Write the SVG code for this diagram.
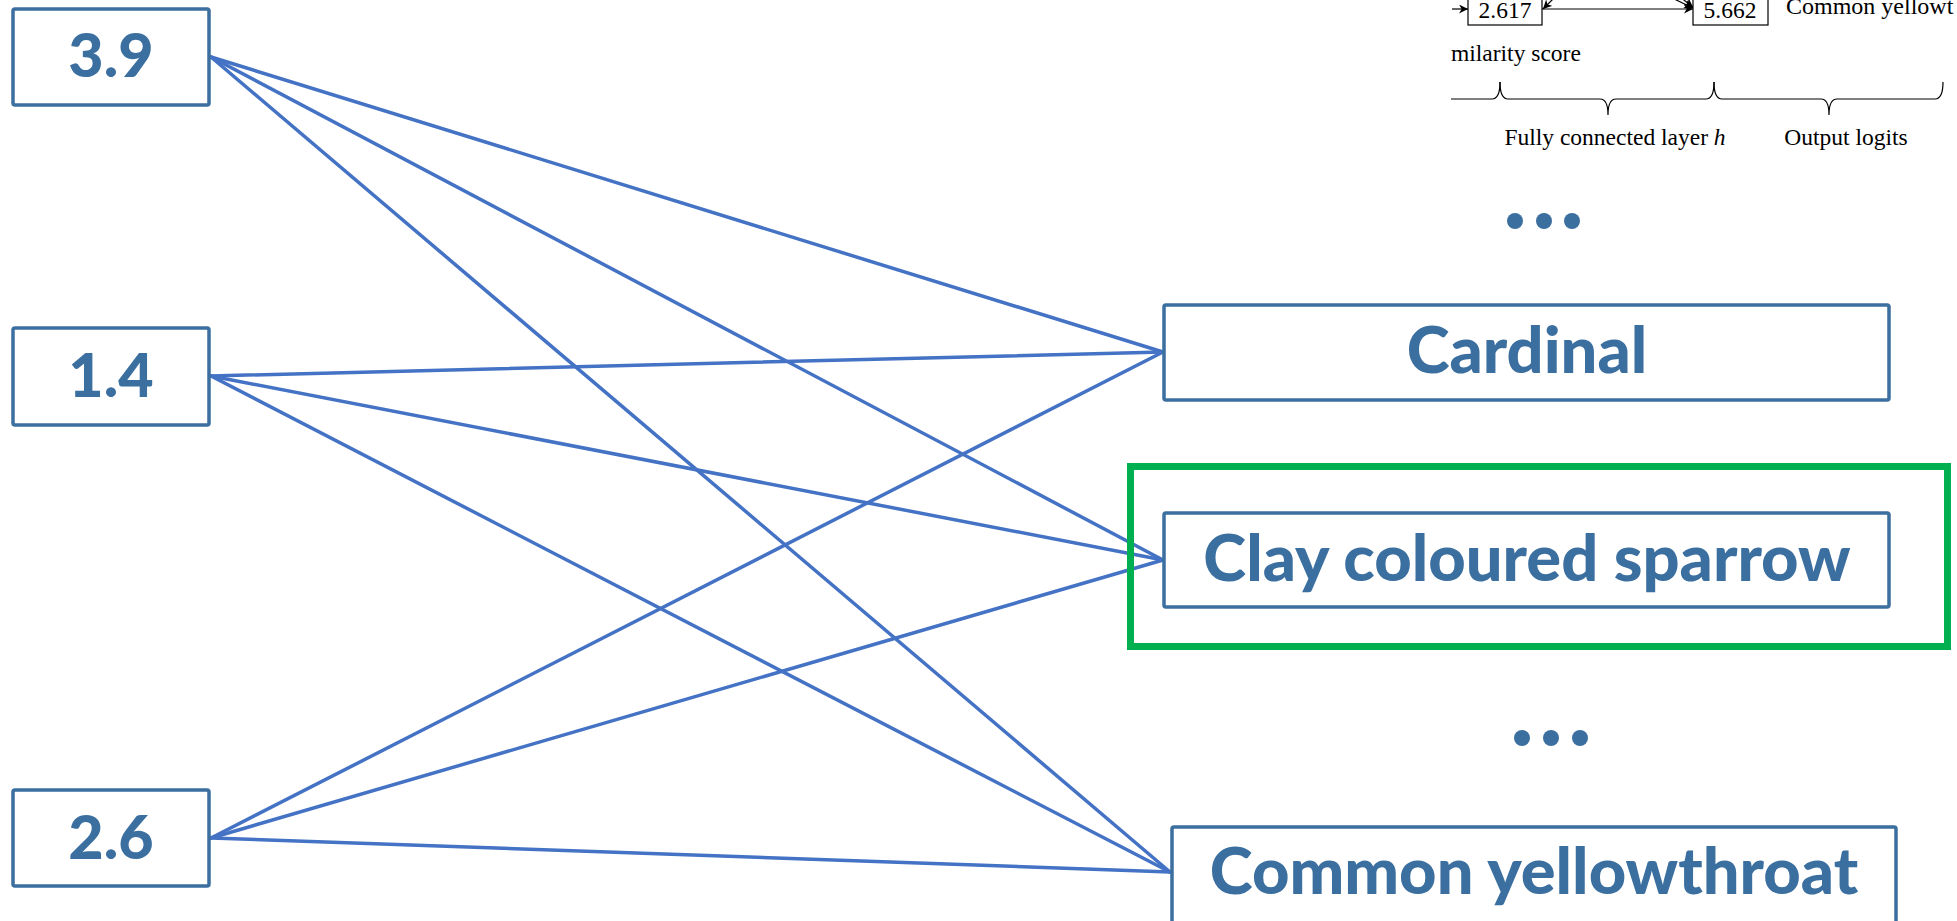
<svg xmlns="http://www.w3.org/2000/svg" width="1957" height="921" viewBox="0 0 1957 921">
  <defs>
    <style>
      .box { fill: #ffffff; stroke: #3b6f9f; stroke-width: 3.5; }
      .lbl { font-family: Lato, "Open Sans", "Liberation Sans", sans-serif; font-weight: 900; fill: #3b6f9f; text-anchor: middle; }
      .num { font-size: 61px; }
      .cls { font-size: 65px; }
      .wire { stroke: #4472c4; stroke-width: 3.5; fill: none; stroke-linecap: round; }
      .dot { fill: #3b6f9f; }
      .thin { stroke: #000000; stroke-width: 1.2; fill: none; }
      .tbox { fill: #ffffff; stroke: #000000; stroke-width: 1.2; }
      .serif { font-family: "Liberation Serif", "Times New Roman", serif; font-size: 23.5px; fill: #000000; }
      .big { font-size: 24px; }
    </style>
    <marker id="arr" viewBox="0 0 10 10" refX="10" refY="5" markerWidth="9" markerHeight="9" markerUnits="userSpaceOnUse" orient="auto">
      <path d="M0,0 L10,5 L0,10 L3,5 Z" fill="#000000"/>
    </marker>
  </defs>

  <!-- inset: fragment of the network schematic -->
  <g id="inset">
    <line class="thin" x1="1452" y1="9" x2="1468" y2="9" marker-end="url(#arr)"/>
    <line class="thin" x1="1556" y1="-4" x2="1543" y2="9" marker-end="url(#arr)"/>
    <line class="thin" x1="1542" y1="9" x2="1693" y2="9" marker-end="url(#arr)"/>
    <line class="thin" x1="1670" y1="-3" x2="1693" y2="8" marker-end="url(#arr)"/>
    <line class="thin" x1="1676" y1="-6" x2="1693" y2="7" marker-end="url(#arr)"/>
    <rect class="tbox" x="1468" y="-5" width="74" height="30"/>
    <text class="serif" x="1505" y="18" text-anchor="middle">2.617</text>
    <rect class="tbox" x="1693" y="-5" width="75" height="30"/>
    <text class="serif" x="1730" y="18" text-anchor="middle">5.662</text>
    <text class="serif big" x="1786" y="14">Common yellowt</text>
    <text class="serif" x="1451" y="61">milarity score</text>
    <path class="thin" d="M1451,99 L1492,99 Q1500,99 1500,82"/>
    <path class="thin" d="M1500,82 Q1500,99 1508,99 L1600,99 Q1608,99 1608,115 Q1608,99 1616,99 L1706,99 Q1714,99 1714,82"/>
    <path class="thin" d="M1714,82 Q1714,99 1722,99 L1821,99 Q1829,99 1829,115 Q1829,99 1837,99 L1935,99 Q1943,99 1943,82"/>
    <text class="serif" x="1615" y="145" text-anchor="middle">Fully connected layer <tspan font-style="italic">h</tspan></text>
    <text class="serif" x="1846" y="145" text-anchor="middle">Output logits</text>
  </g>

  <!-- connections: every input feeds every output -->
  <g id="connectors">
    <line class="wire" x1="211" y1="57" x2="1163" y2="352"/>
    <line class="wire" x1="211" y1="57" x2="1163" y2="560"/>
    <line class="wire" x1="211" y1="57" x2="1170" y2="872"/>
    <line class="wire" x1="211" y1="376" x2="1163" y2="352"/>
    <line class="wire" x1="211" y1="376" x2="1163" y2="560"/>
    <line class="wire" x1="211" y1="376" x2="1170" y2="872"/>
    <line class="wire" x1="211" y1="838" x2="1163" y2="352"/>
    <line class="wire" x1="211" y1="838" x2="1163" y2="560"/>
    <line class="wire" x1="211" y1="838" x2="1170" y2="872"/>
  </g>

  <!-- inputs -->
  <g id="in1">
    <rect class="box" x="13" y="9" width="196" height="96" rx="2"/>
    <text class="lbl num" x="111" y="77">3.9</text>
  </g>
  <g id="in2">
    <rect class="box" x="13" y="328" width="196" height="97" rx="2"/>
    <text class="lbl num" x="111" y="397">1.4</text>
  </g>
  <g id="in3">
    <rect class="box" x="13" y="790" width="196" height="96" rx="2"/>
    <text class="lbl num" x="111" y="859">2.6</text>
  </g>

  <!-- outputs -->
  <g id="dots-top">
    <circle class="dot" cx="1515" cy="221" r="8"/>
    <circle class="dot" cx="1544" cy="221" r="8"/>
    <circle class="dot" cx="1572" cy="221" r="8"/>
  </g>
  <g id="out-cardinal">
    <rect class="box" x="1164" y="305" width="725" height="95" rx="2"/>
    <text class="lbl cls" x="1527" y="373">Cardinal</text>
  </g>
  <g id="out-sparrow">
    <rect x="1130.5" y="466.5" width="817" height="180" fill="none" stroke="#00b050" stroke-width="7"/>
    <rect class="box" x="1164" y="513" width="725" height="94" rx="2"/>
    <text class="lbl cls" x="1527" y="581">Clay coloured sparrow</text>
  </g>
  <g id="dots-bottom">
    <circle class="dot" cx="1522" cy="738" r="8"/>
    <circle class="dot" cx="1551" cy="738" r="8"/>
    <circle class="dot" cx="1580" cy="738" r="8"/>
  </g>
  <g id="out-yellowthroat">
    <rect class="box" x="1172" y="827" width="724" height="110" rx="2"/>
    <text class="lbl cls" x="1534" y="894">Common yellowthroat</text>
  </g>
</svg>
